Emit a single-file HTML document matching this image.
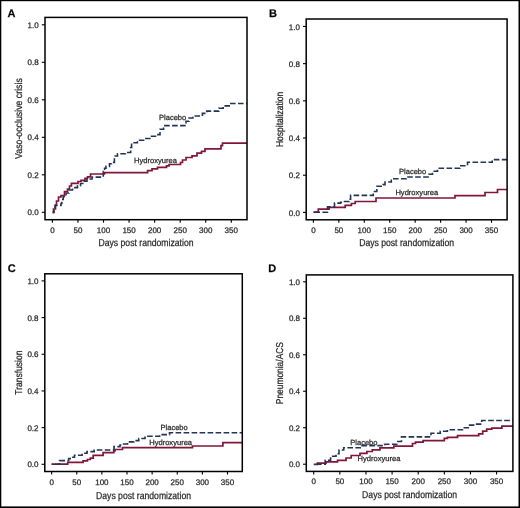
<!DOCTYPE html><html><head><meta charset="utf-8"><style>html,body{margin:0;padding:0;background:#fff;}svg{display:block;filter:blur(0.4px);}</style></head><body>
<svg width="520" height="508" viewBox="0 0 520 508" style="font-family:'Liberation Sans', sans-serif">
<style>text{stroke:#2a2a2a;stroke-width:0.25;text-rendering:geometricPrecision;}</style>
<rect x="0" y="0" width="520" height="508" fill="#fff"/>
<rect x="0" y="0" width="1.3" height="508" fill="#000"/>
<rect x="0" y="0" width="520" height="1.2" fill="#000"/>
<rect x="518.5" y="0" width="1.5" height="508" fill="#000"/>
<rect x="0" y="506.4" width="520" height="1.6" fill="#000"/>
<clipPath id="cA"><rect x="45.00" y="17.40" width="202.00" height="202.30"/></clipPath>
<path d="M52.60,212.40 H53.50 V209.00 H55.50 V205.00 H56.50 V201.00 H58.50 V197.00 H61.00 V195.50 H64.50 V191.50 H67.50 V189.00 H69.50 V186.00 H71.40 V183.40 H78.00 V181.50 H81.00 V180.40 H85.00 V178.30 H87.50 V176.80 H90.50 V174.00 H104.50 V172.60 H147.60 V170.70 H152.00 V168.80 H157.50 V167.30 H166.50 V165.80 H169.00 V164.50 H180.50 V162.50 H182.50 V160.00 H186.00 V157.50 H192.00 V155.80 H197.00 V153.20 H201.50 V151.40 H205.00 V148.80 H221.00 V145.60 H222.50 V143.10 H247.00" fill="none" stroke="#80163a" stroke-width="1.7" clip-path="url(#cA)"/>
<path d="M52.60,212.40 H54.00 V208.00 H55.00 V205.50 H61.00 V203.50 H61.80 V199.50 H63.20 V196.80 H66.00 V193.00 H69.00 V190.00 H72.50 V187.60 H77.50 V185.70 H80.50 V183.50 H84.00 V181.20 H87.00 V179.00 H92.00 V177.10 H103.30 V171.30 H104.60 V168.20 H106.00 V166.40 H109.50 V163.80 H111.30 V162.40 H114.40 V156.00 H117.50 V153.80 H125.40 V152.50 H130.70 V147.50 H131.60 V142.80 H137.40 V140.30 H144.60 V138.50 H151.50 V136.20 H156.90 V134.60 H160.00 V129.20 H163.60 V125.60 H186.00 V121.20 H189.00 V118.00 H192.90 V116.00 H202.40 V113.40 H206.70 V111.10 H218.80 V108.20 H223.20 V105.90 H229.20 V103.50 H247.00" fill="none" stroke="#243456" stroke-width="1.6" stroke-dasharray="5.6,2.4" stroke-dashoffset="1.70" clip-path="url(#cA)"/>
<rect x="45.00" y="17.40" width="202.00" height="202.30" fill="none" stroke="#000000" stroke-width="1.5"/>
<line x1="41.80" y1="212.30" x2="45.00" y2="212.30" stroke="#000000" stroke-width="1.1"/>
<text x="38.70" y="215.40" font-size="8.00" fill="#2a2a2a" text-anchor="end">0.0</text>
<line x1="41.80" y1="174.80" x2="45.00" y2="174.80" stroke="#000000" stroke-width="1.1"/>
<text x="38.70" y="177.90" font-size="8.00" fill="#2a2a2a" text-anchor="end">0.2</text>
<line x1="41.80" y1="137.30" x2="45.00" y2="137.30" stroke="#000000" stroke-width="1.1"/>
<text x="38.70" y="140.40" font-size="8.00" fill="#2a2a2a" text-anchor="end">0.4</text>
<line x1="41.80" y1="99.80" x2="45.00" y2="99.80" stroke="#000000" stroke-width="1.1"/>
<text x="38.70" y="102.90" font-size="8.00" fill="#2a2a2a" text-anchor="end">0.6</text>
<line x1="41.80" y1="62.30" x2="45.00" y2="62.30" stroke="#000000" stroke-width="1.1"/>
<text x="38.70" y="65.40" font-size="8.00" fill="#2a2a2a" text-anchor="end">0.8</text>
<line x1="41.80" y1="24.80" x2="45.00" y2="24.80" stroke="#000000" stroke-width="1.1"/>
<text x="38.70" y="27.90" font-size="8.00" fill="#2a2a2a" text-anchor="end">1.0</text>
<line x1="52.40" y1="219.70" x2="52.40" y2="222.70" stroke="#000000" stroke-width="1.1"/>
<text x="52.40" y="232.70" font-size="8.00" fill="#2a2a2a" text-anchor="middle">0</text>
<line x1="77.96" y1="219.70" x2="77.96" y2="222.70" stroke="#000000" stroke-width="1.1"/>
<text x="77.96" y="232.70" font-size="8.00" fill="#2a2a2a" text-anchor="middle">50</text>
<line x1="103.51" y1="219.70" x2="103.51" y2="222.70" stroke="#000000" stroke-width="1.1"/>
<text x="103.51" y="232.70" font-size="8.00" fill="#2a2a2a" text-anchor="middle">100</text>
<line x1="129.07" y1="219.70" x2="129.07" y2="222.70" stroke="#000000" stroke-width="1.1"/>
<text x="129.07" y="232.70" font-size="8.00" fill="#2a2a2a" text-anchor="middle">150</text>
<line x1="154.63" y1="219.70" x2="154.63" y2="222.70" stroke="#000000" stroke-width="1.1"/>
<text x="154.63" y="232.70" font-size="8.00" fill="#2a2a2a" text-anchor="middle">200</text>
<line x1="180.19" y1="219.70" x2="180.19" y2="222.70" stroke="#000000" stroke-width="1.1"/>
<text x="180.19" y="232.70" font-size="8.00" fill="#2a2a2a" text-anchor="middle">250</text>
<line x1="205.74" y1="219.70" x2="205.74" y2="222.70" stroke="#000000" stroke-width="1.1"/>
<text x="205.74" y="232.70" font-size="8.00" fill="#2a2a2a" text-anchor="middle">300</text>
<line x1="231.30" y1="219.70" x2="231.30" y2="222.70" stroke="#000000" stroke-width="1.1"/>
<text x="231.30" y="232.70" font-size="8.00" fill="#2a2a2a" text-anchor="middle">350</text>
<text x="146.00" y="245.90" font-size="10.00" fill="#2a2a2a" text-anchor="middle" textLength="95" lengthAdjust="spacingAndGlyphs">Days post randomization</text>
<text transform="translate(21.60,118.55) rotate(-90)" font-size="10.00" fill="#2a2a2a" text-anchor="middle" textLength="80.7" lengthAdjust="spacingAndGlyphs">Vaso-occlusive crisis</text>
<text x="7.50" y="16.70" font-size="11" font-weight="bold" fill="#000">A</text>
<text x="159.00" y="119.80" font-size="7.5" fill="#2a2a2a" textLength="27.2" lengthAdjust="spacingAndGlyphs">Placebo</text>
<text x="134.00" y="163.00" font-size="7.5" fill="#2a2a2a" textLength="42.9" lengthAdjust="spacingAndGlyphs">Hydroxyurea</text>
<clipPath id="cB"><rect x="306.20" y="19.00" width="200.90" height="200.80"/></clipPath>
<path d="M313.40,212.20 H318.30 V209.20 H329.10 V207.40 H345.20 V205.40 H351.40 V203.50 H355.20 V201.50 H376.00 V198.00 H455.00 V195.60 H485.00 V192.50 H497.50 V189.50 H507.10" fill="none" stroke="#80163a" stroke-width="1.7" clip-path="url(#cB)"/>
<path d="M313.40,212.20 H327.50 V206.90 H334.50 V203.10 H340.60 V202.30 H344.50 V201.50 H349.00 V199.20 H350.60 V195.40 H373.30 V191.50 H376.80 V186.20 H383.00 V184.60 H385.00 V182.00 H391.30 V178.80 H406.30 V177.00 H428.80 V174.30 H432.50 V171.30 H437.50 V168.30 H460.00 V165.80 H467.50 V162.30 H492.20 V159.60 H507.10" fill="none" stroke="#243456" stroke-width="1.6" stroke-dasharray="5.6,2.4" stroke-dashoffset="7.00" clip-path="url(#cB)"/>
<rect x="306.20" y="19.00" width="200.90" height="200.80" fill="none" stroke="#000000" stroke-width="1.5"/>
<line x1="303.00" y1="212.40" x2="306.20" y2="212.40" stroke="#000000" stroke-width="1.1"/>
<text x="299.90" y="215.50" font-size="8.00" fill="#2a2a2a" text-anchor="end">0.0</text>
<line x1="303.00" y1="175.21" x2="306.20" y2="175.21" stroke="#000000" stroke-width="1.1"/>
<text x="299.90" y="178.31" font-size="8.00" fill="#2a2a2a" text-anchor="end">0.2</text>
<line x1="303.00" y1="138.02" x2="306.20" y2="138.02" stroke="#000000" stroke-width="1.1"/>
<text x="299.90" y="141.12" font-size="8.00" fill="#2a2a2a" text-anchor="end">0.4</text>
<line x1="303.00" y1="100.83" x2="306.20" y2="100.83" stroke="#000000" stroke-width="1.1"/>
<text x="299.90" y="103.93" font-size="8.00" fill="#2a2a2a" text-anchor="end">0.6</text>
<line x1="303.00" y1="63.64" x2="306.20" y2="63.64" stroke="#000000" stroke-width="1.1"/>
<text x="299.90" y="66.74" font-size="8.00" fill="#2a2a2a" text-anchor="end">0.8</text>
<line x1="303.00" y1="26.45" x2="306.20" y2="26.45" stroke="#000000" stroke-width="1.1"/>
<text x="299.90" y="29.55" font-size="8.00" fill="#2a2a2a" text-anchor="end">1.0</text>
<line x1="313.40" y1="219.80" x2="313.40" y2="222.80" stroke="#000000" stroke-width="1.1"/>
<text x="313.40" y="232.70" font-size="8.00" fill="#2a2a2a" text-anchor="middle">0</text>
<line x1="338.84" y1="219.80" x2="338.84" y2="222.80" stroke="#000000" stroke-width="1.1"/>
<text x="338.84" y="232.70" font-size="8.00" fill="#2a2a2a" text-anchor="middle">50</text>
<line x1="364.29" y1="219.80" x2="364.29" y2="222.80" stroke="#000000" stroke-width="1.1"/>
<text x="364.29" y="232.70" font-size="8.00" fill="#2a2a2a" text-anchor="middle">100</text>
<line x1="389.73" y1="219.80" x2="389.73" y2="222.80" stroke="#000000" stroke-width="1.1"/>
<text x="389.73" y="232.70" font-size="8.00" fill="#2a2a2a" text-anchor="middle">150</text>
<line x1="415.17" y1="219.80" x2="415.17" y2="222.80" stroke="#000000" stroke-width="1.1"/>
<text x="415.17" y="232.70" font-size="8.00" fill="#2a2a2a" text-anchor="middle">200</text>
<line x1="440.61" y1="219.80" x2="440.61" y2="222.80" stroke="#000000" stroke-width="1.1"/>
<text x="440.61" y="232.70" font-size="8.00" fill="#2a2a2a" text-anchor="middle">250</text>
<line x1="466.06" y1="219.80" x2="466.06" y2="222.80" stroke="#000000" stroke-width="1.1"/>
<text x="466.06" y="232.70" font-size="8.00" fill="#2a2a2a" text-anchor="middle">300</text>
<line x1="491.50" y1="219.80" x2="491.50" y2="222.80" stroke="#000000" stroke-width="1.1"/>
<text x="491.50" y="232.70" font-size="8.00" fill="#2a2a2a" text-anchor="middle">350</text>
<text x="406.65" y="245.90" font-size="10.00" fill="#2a2a2a" text-anchor="middle" textLength="95" lengthAdjust="spacingAndGlyphs">Days post randomization</text>
<text transform="translate(282.80,119.40) rotate(-90)" font-size="10.00" fill="#2a2a2a" text-anchor="middle" textLength="55.3" lengthAdjust="spacingAndGlyphs">Hospitalization</text>
<text x="268.90" y="16.90" font-size="11" font-weight="bold" fill="#000">B</text>
<text x="399.00" y="173.50" font-size="7.5" fill="#2a2a2a" textLength="27.2" lengthAdjust="spacingAndGlyphs">Placebo</text>
<text x="395.40" y="195.30" font-size="7.5" fill="#2a2a2a" textLength="42.9" lengthAdjust="spacingAndGlyphs">Hydroxyurea</text>
<clipPath id="cC"><rect x="44.80" y="273.80" width="197.50" height="197.70"/></clipPath>
<path d="M51.65,464.20 H67.70 V462.40 H83.10 V460.80 H87.40 V459.50 H90.30 V458.10 H93.20 V455.40 H103.10 V452.60 H113.80 V450.80 H115.00 V449.50 H122.50 V447.60 H192.50 V446.00 H222.90 V442.70 H242.30" fill="none" stroke="#80163a" stroke-width="1.7" clip-path="url(#cC)"/>
<path d="M51.65,464.20 H59.50 V460.60 H68.70 V458.60 H71.10 V457.30 H74.50 V455.20 H82.10 V453.30 H87.00 V451.60 H94.20 V450.00 H114.00 V446.60 H120.00 V445.00 H122.00 V444.00 H127.50 V441.90 H133.80 V440.60 H138.80 V438.50 H145.00 V436.30 H159.60 V434.60 H169.50 V432.80 H242.30" fill="none" stroke="#243456" stroke-width="1.6" stroke-dasharray="5.6,2.4" stroke-dashoffset="4.65" clip-path="url(#cC)"/>
<rect x="44.80" y="273.80" width="197.50" height="197.70" fill="none" stroke="#000000" stroke-width="1.5"/>
<line x1="41.60" y1="464.30" x2="44.80" y2="464.30" stroke="#000000" stroke-width="1.1"/>
<text x="38.50" y="467.40" font-size="8.00" fill="#2a2a2a" text-anchor="end">0.0</text>
<line x1="41.60" y1="427.62" x2="44.80" y2="427.62" stroke="#000000" stroke-width="1.1"/>
<text x="38.50" y="430.72" font-size="8.00" fill="#2a2a2a" text-anchor="end">0.2</text>
<line x1="41.60" y1="390.94" x2="44.80" y2="390.94" stroke="#000000" stroke-width="1.1"/>
<text x="38.50" y="394.04" font-size="8.00" fill="#2a2a2a" text-anchor="end">0.4</text>
<line x1="41.60" y1="354.26" x2="44.80" y2="354.26" stroke="#000000" stroke-width="1.1"/>
<text x="38.50" y="357.36" font-size="8.00" fill="#2a2a2a" text-anchor="end">0.6</text>
<line x1="41.60" y1="317.58" x2="44.80" y2="317.58" stroke="#000000" stroke-width="1.1"/>
<text x="38.50" y="320.68" font-size="8.00" fill="#2a2a2a" text-anchor="end">0.8</text>
<line x1="41.60" y1="280.90" x2="44.80" y2="280.90" stroke="#000000" stroke-width="1.1"/>
<text x="38.50" y="284.00" font-size="8.00" fill="#2a2a2a" text-anchor="end">1.0</text>
<line x1="51.65" y1="471.50" x2="51.65" y2="474.50" stroke="#000000" stroke-width="1.1"/>
<text x="51.65" y="485.00" font-size="8.00" fill="#2a2a2a" text-anchor="middle">0</text>
<line x1="76.77" y1="471.50" x2="76.77" y2="474.50" stroke="#000000" stroke-width="1.1"/>
<text x="76.77" y="485.00" font-size="8.00" fill="#2a2a2a" text-anchor="middle">50</text>
<line x1="101.89" y1="471.50" x2="101.89" y2="474.50" stroke="#000000" stroke-width="1.1"/>
<text x="101.89" y="485.00" font-size="8.00" fill="#2a2a2a" text-anchor="middle">100</text>
<line x1="127.01" y1="471.50" x2="127.01" y2="474.50" stroke="#000000" stroke-width="1.1"/>
<text x="127.01" y="485.00" font-size="8.00" fill="#2a2a2a" text-anchor="middle">150</text>
<line x1="152.14" y1="471.50" x2="152.14" y2="474.50" stroke="#000000" stroke-width="1.1"/>
<text x="152.14" y="485.00" font-size="8.00" fill="#2a2a2a" text-anchor="middle">200</text>
<line x1="177.26" y1="471.50" x2="177.26" y2="474.50" stroke="#000000" stroke-width="1.1"/>
<text x="177.26" y="485.00" font-size="8.00" fill="#2a2a2a" text-anchor="middle">250</text>
<line x1="202.38" y1="471.50" x2="202.38" y2="474.50" stroke="#000000" stroke-width="1.1"/>
<text x="202.38" y="485.00" font-size="8.00" fill="#2a2a2a" text-anchor="middle">300</text>
<line x1="227.50" y1="471.50" x2="227.50" y2="474.50" stroke="#000000" stroke-width="1.1"/>
<text x="227.50" y="485.00" font-size="8.00" fill="#2a2a2a" text-anchor="middle">350</text>
<text x="143.55" y="498.70" font-size="10.00" fill="#2a2a2a" text-anchor="middle" textLength="95" lengthAdjust="spacingAndGlyphs">Days post randomization</text>
<text transform="translate(21.80,372.65) rotate(-90)" font-size="10.00" fill="#2a2a2a" text-anchor="middle" textLength="44.0" lengthAdjust="spacingAndGlyphs">Transfusion</text>
<text x="7.80" y="272.10" font-size="11" font-weight="bold" fill="#000">C</text>
<text x="160.50" y="430.20" font-size="7.5" fill="#2a2a2a" textLength="27.2" lengthAdjust="spacingAndGlyphs">Placebo</text>
<text x="149.20" y="444.80" font-size="7.5" fill="#2a2a2a" textLength="42.9" lengthAdjust="spacingAndGlyphs">Hydroxyurea</text>
<clipPath id="cD"><rect x="306.30" y="274.90" width="206.60" height="196.50"/></clipPath>
<path d="M313.70,464.30 H317.50 V463.10 H326.00 V461.80 H337.50 V460.30 H346.00 V458.00 H351.20 V455.50 H360.00 V453.40 H366.90 V451.50 H372.30 V449.80 H380.00 V447.80 H393.80 V446.20 H412.50 V443.50 H415.50 V442.20 H423.10 V440.70 H444.30 V438.30 H447.40 V437.30 H457.50 V435.60 H478.70 V433.80 H482.70 V431.20 H486.70 V429.20 H491.80 V428.20 H501.90 V426.20 H512.90" fill="none" stroke="#80163a" stroke-width="1.7" clip-path="url(#cD)"/>
<path d="M313.70,464.30 H325.20 V460.30 H330.60 V456.20 H336.00 V453.80 H339.00 V450.00 H343.70 V447.70 H361.00 V445.60 H382.00 V444.60 H384.60 V444.20 H397.70 V441.50 H401.50 V436.90 H431.00 V433.20 H440.30 V431.20 H447.40 V429.80 H462.50 V427.80 H469.60 V425.10 H476.60 V424.10 H481.70 V420.50 H512.90" fill="none" stroke="#243456" stroke-width="1.6" stroke-dasharray="5.6,2.4" stroke-dashoffset="5.70" clip-path="url(#cD)"/>
<rect x="306.30" y="274.90" width="206.60" height="196.50" fill="none" stroke="#000000" stroke-width="1.5"/>
<line x1="303.10" y1="464.20" x2="306.30" y2="464.20" stroke="#000000" stroke-width="1.1"/>
<text x="300.00" y="467.30" font-size="8.00" fill="#2a2a2a" text-anchor="end">0.0</text>
<line x1="303.10" y1="427.72" x2="306.30" y2="427.72" stroke="#000000" stroke-width="1.1"/>
<text x="300.00" y="430.82" font-size="8.00" fill="#2a2a2a" text-anchor="end">0.2</text>
<line x1="303.10" y1="391.24" x2="306.30" y2="391.24" stroke="#000000" stroke-width="1.1"/>
<text x="300.00" y="394.34" font-size="8.00" fill="#2a2a2a" text-anchor="end">0.4</text>
<line x1="303.10" y1="354.76" x2="306.30" y2="354.76" stroke="#000000" stroke-width="1.1"/>
<text x="300.00" y="357.86" font-size="8.00" fill="#2a2a2a" text-anchor="end">0.6</text>
<line x1="303.10" y1="318.28" x2="306.30" y2="318.28" stroke="#000000" stroke-width="1.1"/>
<text x="300.00" y="321.38" font-size="8.00" fill="#2a2a2a" text-anchor="end">0.8</text>
<line x1="303.10" y1="281.80" x2="306.30" y2="281.80" stroke="#000000" stroke-width="1.1"/>
<text x="300.00" y="284.90" font-size="8.00" fill="#2a2a2a" text-anchor="end">1.0</text>
<line x1="313.70" y1="471.40" x2="313.70" y2="474.40" stroke="#000000" stroke-width="1.1"/>
<text x="313.70" y="484.40" font-size="8.00" fill="#2a2a2a" text-anchor="middle">0</text>
<line x1="339.83" y1="471.40" x2="339.83" y2="474.40" stroke="#000000" stroke-width="1.1"/>
<text x="339.83" y="484.40" font-size="8.00" fill="#2a2a2a" text-anchor="middle">50</text>
<line x1="365.96" y1="471.40" x2="365.96" y2="474.40" stroke="#000000" stroke-width="1.1"/>
<text x="365.96" y="484.40" font-size="8.00" fill="#2a2a2a" text-anchor="middle">100</text>
<line x1="392.09" y1="471.40" x2="392.09" y2="474.40" stroke="#000000" stroke-width="1.1"/>
<text x="392.09" y="484.40" font-size="8.00" fill="#2a2a2a" text-anchor="middle">150</text>
<line x1="418.21" y1="471.40" x2="418.21" y2="474.40" stroke="#000000" stroke-width="1.1"/>
<text x="418.21" y="484.40" font-size="8.00" fill="#2a2a2a" text-anchor="middle">200</text>
<line x1="444.34" y1="471.40" x2="444.34" y2="474.40" stroke="#000000" stroke-width="1.1"/>
<text x="444.34" y="484.40" font-size="8.00" fill="#2a2a2a" text-anchor="middle">250</text>
<line x1="470.47" y1="471.40" x2="470.47" y2="474.40" stroke="#000000" stroke-width="1.1"/>
<text x="470.47" y="484.40" font-size="8.00" fill="#2a2a2a" text-anchor="middle">300</text>
<line x1="496.60" y1="471.40" x2="496.60" y2="474.40" stroke="#000000" stroke-width="1.1"/>
<text x="496.60" y="484.40" font-size="8.00" fill="#2a2a2a" text-anchor="middle">350</text>
<text x="409.60" y="498.10" font-size="10.00" fill="#2a2a2a" text-anchor="middle" textLength="95" lengthAdjust="spacingAndGlyphs">Days post randomization</text>
<text transform="translate(282.80,373.15) rotate(-90)" font-size="10.00" fill="#2a2a2a" text-anchor="middle" textLength="62.1" lengthAdjust="spacingAndGlyphs">Pneumonia/ACS</text>
<text x="268.30" y="271.80" font-size="11" font-weight="bold" fill="#000">D</text>
<text x="350.30" y="444.60" font-size="7.5" fill="#2a2a2a" textLength="27.2" lengthAdjust="spacingAndGlyphs">Placebo</text>
<text x="357.50" y="461.40" font-size="7.5" fill="#2a2a2a" textLength="42.9" lengthAdjust="spacingAndGlyphs">Hydroxyurea</text>
</svg></body></html>
